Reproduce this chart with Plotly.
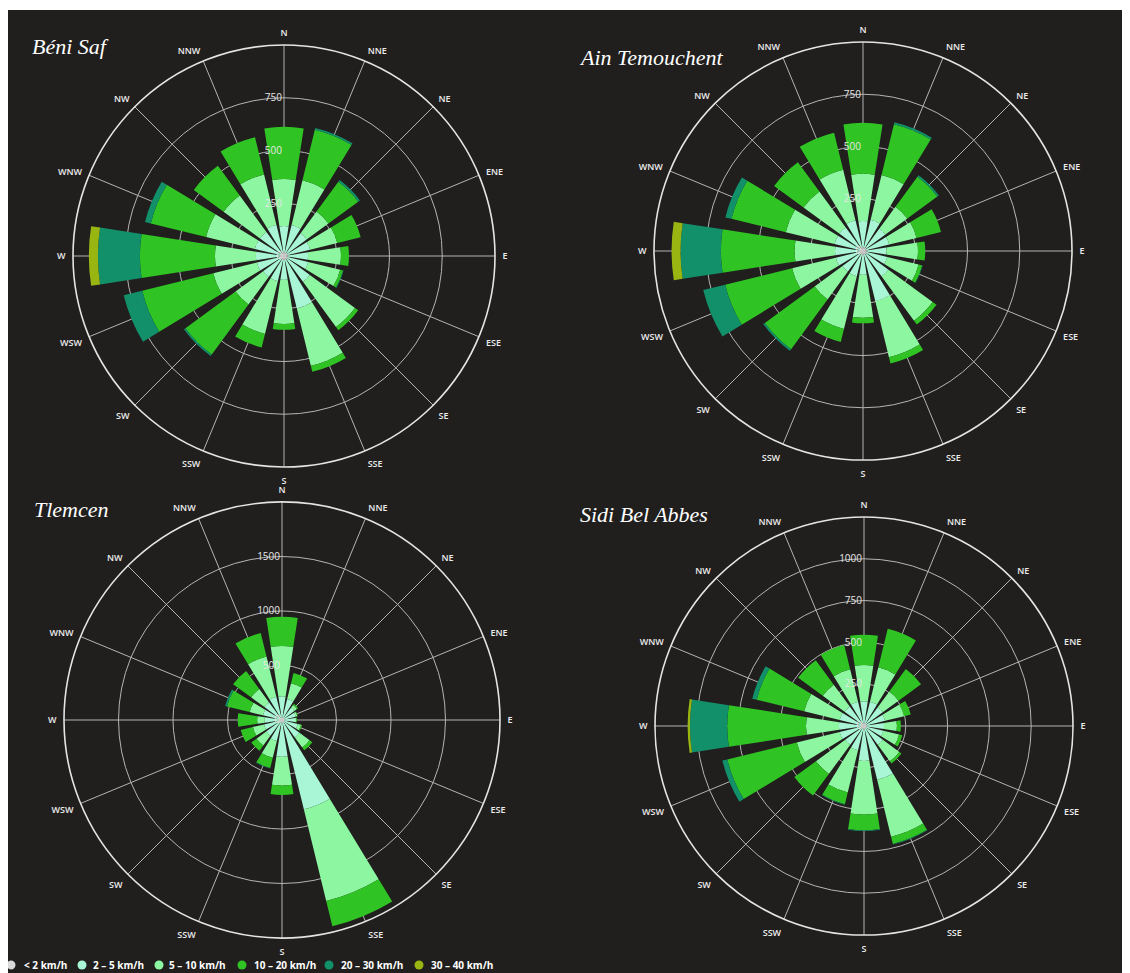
import plotly.graph_objects as go

directions = ["N", "NNE", "NE", "ENE", "E", "ESE", "SE", "SSE",
              "S", "SSW", "SW", "WSW", "W", "WNW", "NW", "NNW"]
speed_bins = ["< 2 km/h", "2 – 5 km/h", "5 – 10 km/h",
              "10 – 20 km/h", "20 – 30 km/h", "30 – 40 km/h"]
bin_colors = ["#d9d9d9", "#a8f6d6", "#8cf7a0", "#2fc323", "#11906a", "#98b511"]

station_names = ["Béni Saf", "Ain Temouchent", "Tlemcen", "Sidi Bel Abbes"]
radial_ticks_beni = [0, 250, 500, 750]
radial_ticks_ain = [0, 250, 500, 750]
radial_ticks_tlemcen = [0, 500, 1000, 1500]
radial_ticks_sba = [0, 250, 500, 750, 1000]
radial_max = [1000, 1000, 2000, 1250]

# ---- Béni Saf (values per direction, N clockwise) ----
beni_lt2 = [19, 18, 19, 18, 19, 18, 19, 19, 18, 19, 19, 18, 19, 19, 18, 19]
beni_2_5 = [123, 133, 114, 109, 95, 100, 133, 237, 95, 104, 104, 114, 114, 123, 123, 133]
beni_5_10 = [223, 218, 128, 133, 156, 156, 265, 280, 209, 257, 162, 213, 194, 238, 214, 246]
beni_10_20 = [247, 247, 175, 114, 38, 14, 19, 29, 28, 66, 294, 347, 356, 270, 175, 181]
beni_20_30 = [0, 9, 10, 0, 0, 3, 0, 0, 0, 0, 9, 90, 199, 28, 0, 0]
beni_30_40 = [0, 0, 0, 0, 0, 0, 0, 0, 0, 0, 0, 0, 43, 0, 0, 0]

# ---- Ain Temouchent ----
ain_lt2 = [19, 19, 18, 19, 18, 19, 19, 18, 19, 19, 18, 19, 19, 18, 19, 19]
ain_2_5 = [125, 135, 115, 110, 95, 100, 132, 230, 95, 105, 104, 115, 115, 122, 122, 133]
ain_5_10 = [225, 220, 130, 135, 150, 155, 262, 275, 205, 260, 165, 215, 193, 240, 212, 248]
ain_10_20 = [244, 250, 178, 120, 35, 18, 23, 31, 27, 64, 295, 330, 353, 268, 174, 183]
ain_20_30 = [0, 10, 9, 0, 0, 2, 0, 0, 0, 0, 10, 108, 193, 30, 0, 0]
ain_30_40 = [0, 0, 0, 0, 0, 0, 0, 0, 0, 0, 0, 0, 43, 0, 0, 0]

# ---- Tlemcen ----
tlem_lt2 = [25, 24, 25, 24, 25, 25, 24, 25, 25, 24, 25, 25, 24, 25, 25, 24]
tlem_2_5 = [190, 175, 115, 105, 95, 125, 175, 819, 311, 175, 155, 145, 135, 155, 175, 195]
tlem_5_10 = [464, 149, 30, 15, 10, 30, 115, 865, 266, 158, 110, 105, 69, 126, 152, 380]
tlem_10_20 = [269, 97, 14, 5, 8, 10, 31, 239, 86, 97, 59, 115, 178, 214, 204, 223]
tlem_20_30 = [0, 0, 0, 0, 0, 0, 0, 0, 0, 5, 0, 0, 0, 17, 0, 0]
tlem_30_40 = [0, 0, 0, 0, 0, 0, 0, 0, 0, 0, 0, 0, 0, 0, 0, 0]

# ---- Sidi Bel Abbes ----
sba_lt2 = [18, 18, 17, 18, 18, 17, 18, 18, 18, 18, 17, 18, 18, 18, 17, 18]
sba_2_5 = [128, 132, 122, 112, 102, 102, 122, 315, 191, 132, 122, 132, 132, 132, 127, 132]
sba_5_10 = [219, 211, 117, 117, 77, 97, 122, 349, 320, 260, 217, 264, 197, 219, 162, 199]
sba_10_20 = [181, 237, 167, 41, 24, 20, 16, 44, 94, 71, 160, 428, 471, 292, 182, 150]
sba_20_30 = [0, 0, 0, 0, 0, 0, 0, 4, 5, 4, 0, 30, 223, 27, 0, 0]
sba_30_40 = [0, 0, 0, 0, 0, 0, 0, 0, 0, 0, 0, 0, 14, 0, 0, 0]

stations = [
    [beni_lt2, beni_2_5, beni_5_10, beni_10_20, beni_20_30, beni_30_40],
    [ain_lt2, ain_2_5, ain_5_10, ain_10_20, ain_20_30, ain_30_40],
    [tlem_lt2, tlem_2_5, tlem_5_10, tlem_10_20, tlem_20_30, tlem_30_40],
    [sba_lt2, sba_2_5, sba_5_10, sba_10_20, sba_20_30, sba_30_40],
]
radial_ticks = [radial_ticks_beni, radial_ticks_ain, radial_ticks_tlemcen, radial_ticks_sba]

# figure sits at (8, 8) in the page (default body margin)
W, H = 1122, 965
BG = "#211f1e"
GRID = "#b4b4b4"

# polar circle centres / radii in figure pixels
centres = [(276, 248, 211), (855, 243, 209), (274, 712, 218), (856, 718, 209)]
title_pos = [(22, 39), (569, 49), (24, 502), (570, 507)]
# legend row: circle centre x, text start x (figure pixels)
legend_circle_x = [3, 74, 151, 234, 321, 411]
legend_text_x = [14, 83, 159, 244, 331, 421]
legend_y = 957

fig = go.Figure()
for k, series in enumerate(stations):
    pid = "polar" if k == 0 else f"polar{k + 1}"
    for b, vals in enumerate(series):
        fig.add_trace(go.Barpolar(
            r=vals, theta=directions, name=speed_bins[b], subplot=pid,
            marker=dict(color=bin_colors[b], line=dict(width=0)),
            width=0.78, showlegend=False,
        ))

shapes = [dict(type="rect", xref="paper", yref="paper", layer="below",
               x0=0, x1=1, y0=(H - 2) / H, y1=1,
               fillcolor="white", line=dict(width=0))]
annotations = []

# legend (circle markers + labels)
for b, label in enumerate(speed_bins):
    shapes.append(dict(
        type="circle", xref="paper", yref="paper",
        xsizemode="pixel", ysizemode="pixel",
        xanchor=legend_circle_x[b] / W, yanchor=(H - legend_y) / H,
        x0=-4.5, x1=4.5, y0=-4.5, y1=4.5,
        fillcolor=bin_colors[b], line=dict(width=0), layer="above",
    ))
    annotations.append(dict(
        text=label, xref="paper", yref="paper",
        x=legend_text_x[b] / W, y=(H - legend_y) / H,
        xanchor="left", yanchor="middle", showarrow=False,
        font=dict(family="Open Sans", size=10, color="#ffffff", weight=700),
    ))

layout = dict(
    width=W, height=H, autosize=False,
    margin=dict(l=0, r=0, t=0, b=0, autoexpand=False),
    paper_bgcolor=BG, plot_bgcolor=BG,
    showlegend=False,
)

for k, (cx, cy, R) in enumerate(centres):
    pid = "polar" if k == 0 else f"polar{k + 1}"
    layout[pid] = dict(
        domain=dict(x=[(cx - R) / W, (cx + R) / W],
                    y=[(H - cy - R) / H, (H - cy + R) / H]),
        bgcolor="rgba(0,0,0,0)",
        barmode="stack",
        angularaxis=dict(
            type="category", categoryarray=directions,
            direction="clockwise", rotation=90,
            showline=True, linecolor="#e4e4e4", linewidth=1.6,
            showgrid=True, gridcolor=GRID, gridwidth=1,
            ticks="outside", ticklen=5, tickcolor="rgba(0,0,0,0)",
            tickfont=dict(family="Open Sans", size=9, color="#ececec", weight=600),
        ),
        radialaxis=dict(
            range=[0, radial_max[k]], tickvals=radial_ticks[k],
            angle=90, side="counterclockwise", tickangle=90,
            showline=False, ticks="", showgrid=True,
            gridcolor=GRID, gridwidth=1,
            tickfont=dict(family="Open Sans", size=10, color="#e6e6e6"),
        ),
    )
    tx, ty = title_pos[k]
    annotations.append(dict(
        text=station_names[k], xref="paper", yref="paper",
        x=tx / W, y=(H - ty) / H, xanchor="left", yanchor="middle",
        showarrow=False,
        font=dict(family="Liberation Serif", size=22, color="#ffffff", style="italic"),
    ))

layout["shapes"] = shapes
layout["annotations"] = annotations
fig.update_layout(**layout)
fig.write_html("out.html")
